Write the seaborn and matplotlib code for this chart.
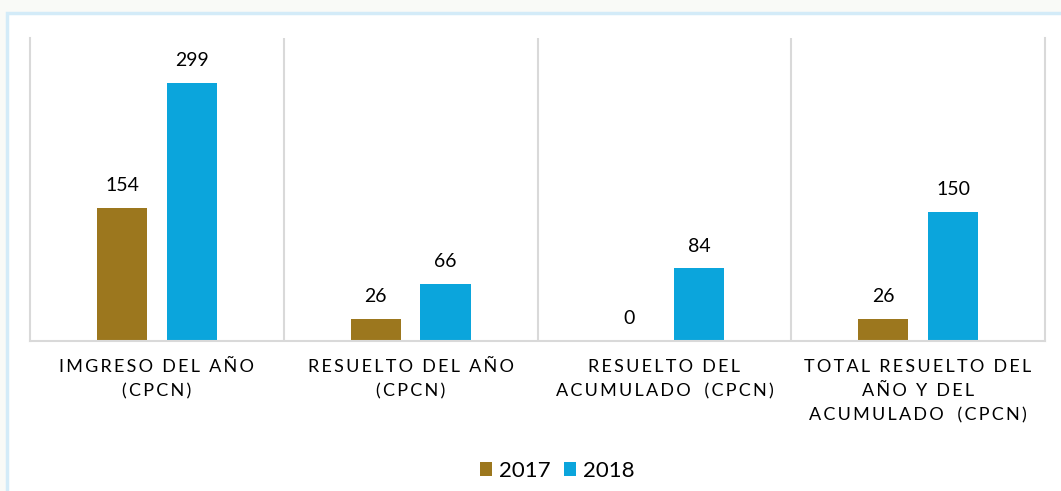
import pandas as pd
import numpy as np
import matplotlib
matplotlib.use('Agg')
import matplotlib.pyplot as plt
from matplotlib.patches import Rectangle
import seaborn as sns

# data
categories = [
    ['IMGRESO DEL AÑO', '(CPCN)'],
    ['RESUELTO DEL AÑO', '(CPCN)'],
    ['RESUELTO DEL', 'ACUMULADO  (CPCN)'],
    ['TOTAL RESUELTO DEL', 'AÑO Y DEL', 'ACUMULADO  (CPCN)'],
]
years = ['2017', '2018']
values_2017 = [154, 26, 0, 26]
values_2018 = [299, 66, 84, 150]
colors = ['#9C771E', '#0BA5DC']

THIN = '\u2009'


def spaced(line):
    # imitate the wide letter spacing of the original labels
    parts = line.split('  ')
    words = [(THIN + ' ' + THIN).join(THIN.join(w) for w in p.split(' ')) for p in parts]
    return (THIN + '  ' + THIN).join(words)


cat_names = ['\n'.join(spaced(l) for l in c) for c in categories]

df = pd.DataFrame({
    'cat': cat_names * 2,
    'year': [years[0]] * 4 + [years[1]] * 4,
    'value': values_2017 + values_2018,
})

sns.set_theme(style='white')
plt.rcParams['font.family'] = ['Lato', 'DejaVu Sans']

fig = plt.figure(figsize=(10.61, 4.91), dpi=100, facecolor='#F9FAF7')
# white panel with the light blue border
fig.patches.append(Rectangle((7 / 1061, -0.1), 1.2, 1.1 - 13 / 491,
                             transform=fig.transFigure, facecolor='white',
                             edgecolor='#D3EBF8', linewidth=2.5, zorder=-5))

ax = fig.add_axes([30 / 1061, 1 - 341 / 491, (1045 - 30) / 1061, (341 - 38) / 491])
ax.set_facecolor('none')

sns.barplot(data=df, x='cat', y='value', hue='year', hue_order=years,
            palette=colors, saturation=1, width=0.55, gap=0.28, ax=ax,
            linewidth=0, legend=True)

for cont in ax.containers:
    ax.bar_label(cont, padding=10, fontsize=14, color='black')

ax.set_ylim(0, 351)
ax.set_xlim(-0.5, len(categories) - 0.5)
for sep in np.arange(0.5, len(categories) - 0.5, 1):
    ax.axvline(sep, color='#D9D9D9', lw=1.5, zorder=0)

for s in ['left', 'right', 'bottom']:
    ax.spines[s].set_color('#D9D9D9')
    ax.spines[s].set_linewidth(1.5)
ax.spines['top'].set_visible(False)

ax.set_yticks([])
ax.set_xlabel('')
ax.set_ylabel('')
ax.tick_params(axis='x', length=0, pad=13)
for lab in ax.get_xticklabels():
    lab.set_fontsize(13)
    lab.set_linespacing(1.62)
    lab.set_color('black')

handles, labels = ax.get_legend_handles_labels()
ax.get_legend().remove()
fig.legend(handles, labels, loc='center', bbox_to_anchor=(557 / 1061, 1 - 471 / 491),
           ncol=2, frameon=False, fontsize=16, handlelength=0.55,
           handleheight=0.55, handletextpad=0.3, columnspacing=0.6,
           labelcolor='black')

fig.savefig('out.png', dpi=100, facecolor=fig.get_facecolor())
